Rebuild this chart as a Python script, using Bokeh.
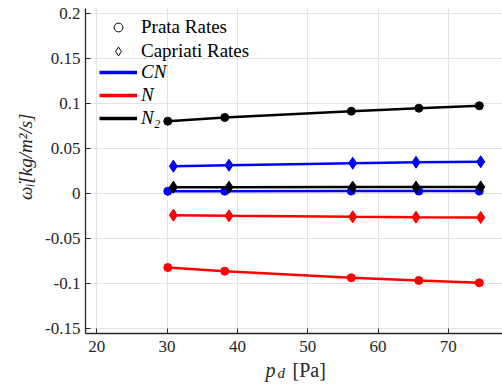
from bokeh.plotting import figure
from bokeh.layouts import column
from bokeh.models import Range1d, FixedTicker, Legend, LegendItem, ColumnDataSource
from bokeh.core.properties import value
from bokeh.embed import file_html
from bokeh.resources import INLINE

# ---- data ----
prata_x = [30.1, 38.2, 56.2, 65.8, 74.4]
capriati_x = [30.9, 38.8, 56.4, 65.4, 74.6]

prata_cn = [0.0028, 0.0029, 0.0030, 0.0030, 0.0030]
prata_n = [-0.0819, -0.0860, -0.0933, -0.0963, -0.0989]
prata_n2 = [0.0807, 0.0848, 0.0918, 0.0951, 0.0978]

capriati_cn = [0.0307, 0.0318, 0.0340, 0.0351, 0.0356]
capriati_n = [-0.0237, -0.0245, -0.0256, -0.0260, -0.0263]
capriati_n2 = [0.0074, 0.0074, 0.0075, 0.0075, 0.0076]

x_ticks = [20, 30, 40, 50, 60, 70]
y_ticks = [-0.15, -0.1, -0.05, 0, 0.05, 0.1, 0.15, 0.2]
y_tick_labels = ["-0.15", "-0.1", "-0.05", "0", "0.05", "0.1", "0.15", "0.2"]

species = ["CN", "N", "N\u2082"]
colors = ["#0000FF", "#FF0000", "#000000"]

FONT = "Liberation Serif"
AXFONT = "serif"
AX = "#262626"

p = figure(width=502, height=357, output_backend="svg", toolbar_location=None,
           x_range=Range1d(18.4, 77.7), y_range=Range1d(-0.1552, 0.2059),
           min_border_left=85, min_border_right=0, min_border_top=8, min_border_bottom=24)
p.outline_line_color = None
p.background_fill_color = "white"

for ax in (p.xaxis[0], p.yaxis[0]):
    ax.axis_line_color = AX
    ax.axis_line_width = 1.3
    ax.major_tick_line_color = AX
    ax.major_tick_in = 5
    ax.major_tick_out = 0
    ax.minor_tick_line_color = None
    ax.major_label_text_font = AXFONT
    ax.major_label_text_font_size = "17px"
    ax.major_label_text_color = AX

p.xaxis[0].ticker = FixedTicker(ticks=x_ticks)
p.yaxis[0].ticker = FixedTicker(ticks=y_ticks)
p.yaxis[0].major_label_overrides = {t: s for t, s in zip(y_ticks, y_tick_labels)}
p.xaxis[0].major_label_standoff = 7
p.yaxis[0].major_label_standoff = 5

# leading no-break spaces nudge the centred label upward, as in the reference
p.yaxis[0].axis_label = "\u00a0" * 6 + "\u03c9\u0307\u1d62[kg/m\u00b2/s]"
p.yaxis[0].axis_label_text_font = AXFONT
p.yaxis[0].axis_label_text_font_style = "italic"
p.yaxis[0].axis_label_text_font_size = "19px"
p.yaxis[0].axis_label_text_color = AX
p.yaxis[0].axis_label_standoff = 6

p.xgrid.grid_line_color = "#e3e3e3"
p.ygrid.grid_line_color = "#e3e3e3"
p.xgrid.ticker = FixedTicker(ticks=x_ticks)
p.ygrid.ticker = FixedTicker(ticks=y_ticks)

prata = [prata_cn, prata_n, prata_n2]
capriati = [capriati_cn, capriati_n, capriati_n2]
for ys, c in zip(prata, colors):
    p.line(prata_x, ys, line_color=c, line_width=2.5)
    p.scatter(prata_x, ys, marker="circle", size=8, fill_color=c, line_color=c)
for ys, c in zip(capriati, colors):
    p.line(capriati_x, ys, line_color=c, line_width=2.5)
    p.scatter(capriati_x, ys, marker="diamond", size=12, fill_color=c, line_color=c)

# legend-only renderers (a single NaN point, nothing drawn in the plot)
nan = float("nan")
def dummy():
    return ColumnDataSource(dict(x=[nan], y=[nan]))
r_prata = p.scatter("x", "y", source=dummy(), marker="circle", size=9,
                    fill_alpha=0, line_color="black", line_width=1)
r_capr = p.scatter("x", "y", source=dummy(), marker="diamond", size=13,
                   fill_alpha=0, line_color="black", line_width=1)
r_lines = [p.line("x", "y", source=dummy(), line_color=c, line_width=3.5) for c in colors]

def style(lg):
    lg.padding = 0
    lg.margin = 0
    lg.border_line_alpha = 0
    lg.background_fill_alpha = 0
    lg.glyph_width = 38
    lg.glyph_height = 22
    lg.label_height = 22
    lg.label_standoff = 4
    lg.label_text_font = FONT
    lg.label_text_font_size = "19px"
    lg.label_text_color = "black"

leg1 = Legend(items=[LegendItem(label="Prata Rates", renderers=[r_prata]),
                     LegendItem(label="Capriati Rates", renderers=[r_capr])],
              location=(14, 271))
style(leg1)
leg1.spacing = 2
leg2 = Legend(items=[LegendItem(label=s, renderers=[r]) for s, r in zip(species, r_lines)],
              location=(14, 204))
style(leg2)
leg2.spacing = 1
leg2.label_text_font_style = "italic"
p.add_layout(leg1)
p.add_layout(leg2)

# x-axis label strip (p with subscript d, then [Pa]); frame aligned with the plot, 1 unit = 1 px
q = figure(width=502, height=28, output_backend="svg", toolbar_location=None,
           x_range=Range1d(0, 417), y_range=Range1d(0, 28),
           x_axis_type=None, y_axis_type=None,
           min_border_left=85, min_border_right=0, min_border_top=0, min_border_bottom=0)
q.outline_line_color = None
q.text(x=[180], y=[16], text=["p"], text_font=value(FONT), text_font_style="italic",
       text_font_size="20px", text_baseline="alphabetic", text_color=AX)
q.text(x=[192], y=[13], text=["d"], text_font=value(FONT), text_font_style="italic",
       text_font_size="15px", text_baseline="alphabetic", text_color=AX)
q.text(x=[207], y=[16], text=["[Pa]"], text_font=value(FONT),
       text_font_size="20px", text_baseline="alphabetic", text_color=AX)

layout = column(p, q, spacing=0)
open("out.html", "w").write(file_html(layout, INLINE))
